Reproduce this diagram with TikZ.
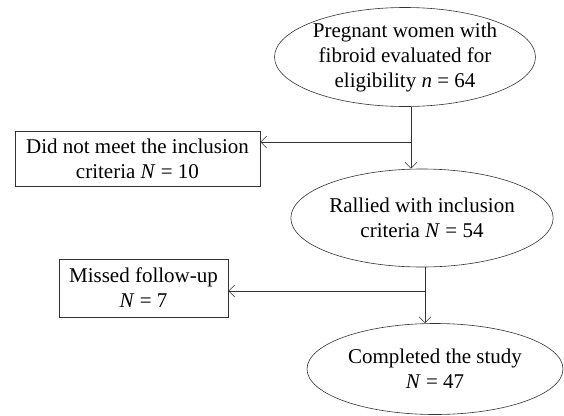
\documentclass[tikz,border=0pt]{standalone}
\usepackage{fontspec}
\setmainfont{Liberation Serif}
\usetikzlibrary{shapes.geometric,arrows.meta}
\begin{document}
\begin{tikzpicture}[x=1pt,y=-1pt]
\tikzset{
    >={Straight Barb[length=6pt,width=12pt]},
    linha/.style={-, semithick, draw=black!80},
    seta/.style={->, semithick, draw=black!80},
    elipse/.style={ellipse, semithick, draw=black!80, inner sep=0pt, align=center,
                   font=\fontsize{21}{25}\selectfont},
    caixa/.style={rectangle, semithick, draw=black!80, inner sep=0pt, align=center,
                  font=\fontsize{21}{25}\selectfont}
}
\useasboundingbox (0,0) rectangle (564,415);

% Etapas
\node[elipse, minimum width=261, minimum height=99] (e1) at (405,57)  {Pregnant women with\\fibroid evaluated for\\eligibility \textit{n} = 64};
\node[elipse, minimum width=252, minimum height=98] (e2) at (422,218) {Rallied with inclusion\\criteria \textit{N} = 54};
\node[elipse, minimum width=256, minimum height=91] (e3) at (435,369) {Completed the study\\\textit{N} = 47};

% Exclusões
\node[caixa, minimum width=245, minimum height=55] (b1) at (137.5,158.5) {Did not meet the inclusion\\criteria \textit{N} = 10};
\node[caixa, minimum width=169, minimum height=58] (b2) at (143.5,288)   {Missed follow-up\\\textit{N} = 7};

% Pontos de ramificação
\coordinate (j1) at (411,142);
\coordinate (j2) at (425,291);

% Ligações
\draw[linha] (e1.south -| j1) -- (j1);
\draw[seta]  (j1) -- (j1 -| b1.east);
\draw[seta]  (j1) -- (e2.north -| j1);
\draw[linha] (e2.south -| j2) -- (j2);
\draw[seta]  (j2) -- (j2 -| b2.east);
\draw[seta]  (j2) -- (e3.north -| j2);
\end{tikzpicture}
\end{document}
